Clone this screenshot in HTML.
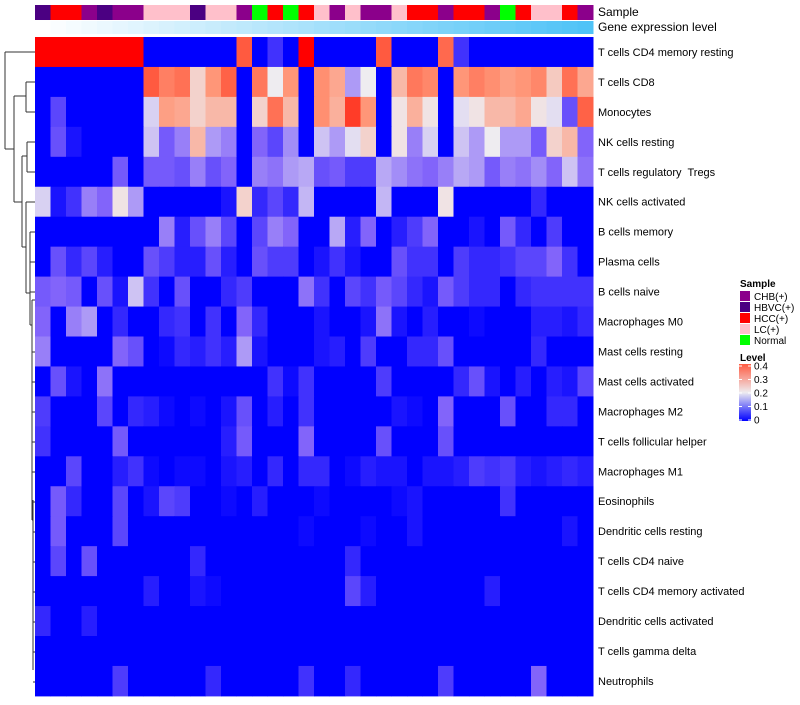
<!DOCTYPE html>
<html><head><meta charset="utf-8"><style>
body{margin:0;background:#fff;font-family:"Liberation Sans",sans-serif;}
svg text{font-family:"Liberation Sans",sans-serif;white-space:pre;}
</style></head><body>
<svg id="chart" width="800" height="700" xmlns="http://www.w3.org/2000/svg">
<g id="dendro" stroke="#333" stroke-width="1" fill="none"></g>
<g id="cells"></g>
<g id="annot"></g>
<g id="rowlabels" font-size="11" fill="#000"></g>
<text x="598" y="16" font-size="12">Sample</text>
<text x="598" y="31" font-size="12">Gene expression level</text>
<g id="legend" font-size="10"></g>
</svg>
<script>
const rowNames=["T cells CD4 memory resting","T cells CD8","Monocytes","NK cells resting","T cells regulatory  Tregs","NK cells activated","B cells memory","Plasma cells","B cells naive","Macrophages M0","Mast cells resting","Mast cells activated","Macrophages M2","T cells follicular helper","Macrophages M1","Eosinophils","Dendritic cells resting","T cells CD4 naive","T cells CD4 memory activated","Dendritic cells activated","T cells gamma delta","Neutrophils"];
const sampleGroups=["HBVC","HCC","HCC","CHB","HBVC","CHB","CHB","LC","LC","LC","HBVC","LC","LC","CHB","Normal","HCC","Normal","HCC","LC","CHB","LC","CHB","CHB","LC","HCC","HCC","CHB","HCC","HCC","CHB","Normal","HCC","LC","LC","HCC","CHB"];
const r1=[.5,.5,.5,.5,.5,.5,.5,0,0,0,0,0,0,.38,0,.05,0,.5,0,0,0,0,.38,0,0,0,.36,.05,0,0,0,0,0,0,0,0];
const r2=[0,0,0,0,0,0,0,.38,.33,.35,.23,.3,.37,0,.34,.2,.3,0,.31,.28,.14,.2,0,.26,.34,.32,0,.3,.33,.31,.29,.3,.32,.24,.35,.28];
const r3=[0,.07,0,0,0,0,0,.18,.29,.28,.23,.26,.26,0,.23,.35,.26,0,.31,.27,.42,.3,0,.21,.27,.21,0,.19,.21,.26,.26,.28,.21,.19,.08,.37];
const r4=[0,.08,.02,0,0,0,0,.17,.09,.12,.26,.14,.12,0,.1,.07,.13,0,.17,.14,.19,.23,0,.21,.12,.18,0,.17,.14,.2,.14,.14,.09,.23,.26,.1];
const r5=[0,0,0,0,0,.09,0,.09,.09,.08,.12,.08,.1,0,.12,.11,.14,.15,.08,.09,.06,.06,.15,.13,.11,.1,.12,.15,.14,.09,.12,.11,.13,.1,.17,.11];
const r6=[.18,.02,.05,.12,.1,.21,.14,0,0,0,0,0,.02,.23,.04,.07,.04,.16,0,0,0,0,.16,0,0,0,.21,0,0,0,0,0,.04,0,0,0];
const r7=[0,0,0,0,0,0,0,0,.12,.03,.08,.12,.07,0,.07,.12,.1,0,0,.15,.03,.1,0,.03,.06,.1,0,0,.02,0,.09,.04,0,.06,0,0];
const r8=[0,.08,.04,.07,.03,0,0,.08,.06,.03,.03,.08,.03,0,.08,.06,.06,0,.02,.05,.02,0,0,.08,.05,.05,0,.06,.04,.04,.05,.07,.07,.1,.05,0];
const r9=[.09,.1,.09,0,.08,.02,.17,.05,0,.08,0,0,.04,.06,0,0,0,.11,.05,0,.07,.05,.09,.07,.04,.02,.09,.06,.04,.04,0,.04,.05,.05,.05,.05];
const r10=[.1,0,.12,.14,0,.04,0,0,.04,.05,0,.05,0,.1,.04,0,0,0,.02,0,0,.02,.11,.02,0,.03,0,0,.01,0,0,0,.03,.03,.02,.04];
const r11=[.12,0,0,0,0,.1,.08,0,.01,.04,.03,.05,.03,.14,.02,0,0,0,.02,.03,0,.06,0,0,.04,.04,.08,0,0,0,0,0,.04,0,0,0];
const r12=[0,.08,.02,0,.11,0,0,0,0,0,0,0,0,0,0,.05,.01,.05,0,0,0,0,.06,0,0,0,0,.04,.08,.02,0,.03,0,.03,.02,.07];
const r13=[.06,0,0,0,.07,0,.04,.03,.01,0,.01,0,.02,.08,0,.03,0,.05,0,0,0,0,0,.02,.01,0,.1,0,0,0,.08,0,0,.04,.04,0];
const r14=[.05,0,0,0,0,.09,0,0,0,0,0,0,.03,.09,0,0,0,.1,0,0,0,0,.08,0,0,0,.08,0,0,0,0,0,0,0,0,0];
const r15=[0,0,.07,0,0,.03,.05,.01,0,.01,.01,0,.02,.03,0,.04,0,.04,.04,0,.01,.03,.02,.02,0,.02,.02,.03,.06,.05,.06,.03,.02,.03,.04,.03];
const r16=[0,.09,.04,0,0,.07,0,.02,.07,.06,0,0,.01,0,.03,0,0,0,.01,0,0,0,0,.01,.02,0,0,0,0,0,.05,0,0,0,0,0];
const r17=[0,.09,0,0,0,.07,0,0,0,0,0,0,0,0,0,0,0,.01,0,0,0,.01,0,0,.02,0,0,0,0,0,0,0,0,0,.02,0];
const r18=[0,.07,0,.08,0,0,0,0,0,0,.04,0,0,0,0,0,0,0,0,0,.04,0,0,0,0,0,0,0,0,0,0,0,0,0,0,0];
const r19=[0,0,0,0,0,0,0,.03,0,0,.02,.01,0,0,0,0,0,0,0,0,.07,.03,0,0,0,0,0,0,0,.03,0,0,0,0,0,0];
const r20=[.04,0,0,.03,0,0,0,0,0,0,0,0,0,0,0,0,0,0,0,0,0,0,0,0,0,0,0,0,0,0,0,0,0,0,0,0];
const r21=[0,0,0,0,0,0,0,0,0,0,0,0,0,0,0,0,0,0,0,0,0,0,0,0,0,0,0,0,0,0,0,0,0,0,0,0];
const r22=[0,0,0,0,0,.06,0,0,0,0,0,.04,0,0,0,0,0,.05,0,0,.04,0,0,0,0,0,.06,0,0,0,0,0,.1,0,0,0];
const matrix=[r1,r2,r3,r4,r5,r6,r7,r8,r9,r10,r11,r12,r13,r14,r15,r16,r17,r18,r19,r20,r21,r22];
const legendGroups=["CHB","HBVC","HCC","LC","Normal"];
const legendTicks=[0.4,0.3,0.2,0.1,0];

const groupColor={CHB:"#8B008B",HBVC:"#4B0082",HCC:"#FF0000",LC:"#FFC0CB",Normal:"#00FF00"};
const X0=35,X1=593,Y0=37,RH=29.95;
const nC=sampleGroups.length,CW=(X1-X0)/nC;
const xs=i=>X0+i*CW, ys=r=>Y0+r*RH;
function lerp(a,b,t){return a.map((v,i)=>Math.round(v+(b[i]-v)*t));}
function col(v){
  const stops=[[0,[0,0,255]],[0.1,[130,100,250]],[0.2,[238,236,240]],[0.3,[255,150,120]],[0.4,[255,75,50]],[0.5,[255,0,0]]];
  if(v<=0)return "rgb(0,0,255)";
  for(let i=1;i<stops.length;i++){if(v<=stops[i][0]){const t=(v-stops[i-1][0])/(stops[i][0]-stops[i-1][0]);const c=lerp(stops[i-1][1],stops[i][1],t);return `rgb(${c})`;}}
  return "rgb(255,0,0)";
}
const NS="http://www.w3.org/2000/svg";
function mk(tag,attrs,parent){const e=document.createElementNS(NS,tag);for(const k in attrs)e.setAttribute(k,attrs[k]);parent.appendChild(e);return e;}
const cells=document.getElementById('cells');
matrix.forEach((row,r)=>row.forEach((v,c)=>{
  const e=mk('rect',{x:xs(c),y:ys(r),width:CW+0.5,height:RH+0.5,fill:col(v)},cells);
  
  
}));
const annot=document.getElementById('annot');
sampleGroups.forEach((g,c)=>{
  const e=mk('rect',{x:xs(c),y:5,width:CW+0.5,height:15,fill:groupColor[g]},annot);
  
  
  const t=c/(nC-1);const cc=lerp([255,255,255],[79,195,247],t);
  const e2=mk('rect',{x:xs(c),y:21,width:CW+0.5,height:13,fill:`rgb(${cc})`},annot);
  
  
});
const rl=document.getElementById('rowlabels');
rowNames.forEach((n,r)=>{
  const t=mk('text',{x:598,y:ys(r)+RH/2+4},rl);t.textContent=n;
  
  
});
const d=document.getElementById('dendro');
const segs=[[5,52,5,149],[5,52,35,52],[5,149,14,149],[14,96,14,202],[14,96,26,96],[26,82,26,112],[26,82,35,82],[26,112,35,112],
[14,202,22,202],[22,156,22,247],[22,156,27,156],[27,142,27,172],[27,142,35,142],[27,172,35,172],[22,247,26,247],[26,202,26,293],[26,202,35,202],
[26,293,30,293],[30,262,30,325],[30,262,35,262],[30,232,30,292],[30,232,35,232],[30,292,35,292],[30,325,32,325],[32,300,32,520],[32,300,35,300],[32,352,35,352],[32,382,35,382],[32,412,35,412],[32,442,35,442],[32,472,35,472],[32,520,33,520],[33,500,33,670],[33,502,35,502],[33,532,35,532],[33,562,35,562],[33,592,35,592],[33,622,35,622],[33,652,35,652],[33,682,35,682]];
segs.forEach(s=>{const l=mk('line',{x1:s[0],y1:s[1],x2:s[2],y2:s[3]},d);
  
  });
const lg=document.getElementById('legend');
let t=mk('text',{x:740,y:287,'font-weight':'bold'},lg);t.textContent='Sample';

legendGroups.forEach((g,i)=>{
  const y=291+i*11;
  const r=mk('rect',{x:740,y:y,width:10,height:10,fill:groupColor[g]},lg);
  
  const tx=mk('text',{x:754,y:y+9},lg);tx.textContent=g==="Normal"?"Normal":g+"(+)";
  
});
t=mk('text',{x:740,y:361,'font-weight':'bold'},lg);t.textContent='Level';

const grad=mk('defs',{},lg);
const lgd=mk('linearGradient',{id:'lvg',x1:0,y1:1,x2:0,y2:0},grad);
[[0,'rgb(0,0,255)'],[0.5,'rgb(238,236,240)'],[1,'rgb(255,90,65)']].forEach(s=>mk('stop',{offset:s[0],'stop-color':s[1]},lgd));
const cb=mk('rect',{x:739,y:364,width:12,height:57,fill:'url(#lvg)'},lg);

legendTicks.forEach(v=>{
  const y=366+(0.4-v)/0.4*54;
  mk('line',{x1:739,y1:y,x2:742,y2:y,stroke:'#fff'},lg);
  mk('line',{x1:748,y1:y,x2:751,y2:y,stroke:'#fff'},lg);
  const tx=mk('text',{x:754,y:y+3.5},lg);tx.textContent=v===0?"0":v.toFixed(1);
  
});
</script>
</body></html>
